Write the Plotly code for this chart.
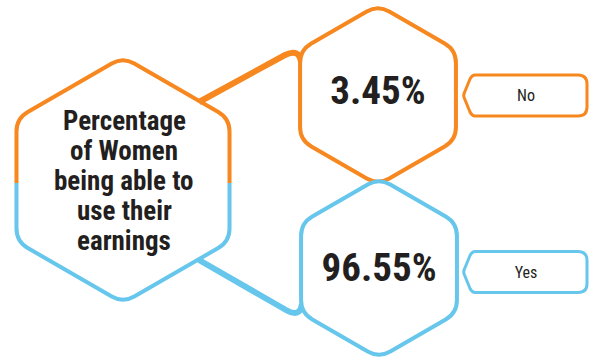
import numpy as np
import plotly.graph_objects as go

# ---- data ----
title_lines = ["Percentage", "of Women", "being able to", "use their", "earnings"]
categories = ["No", "Yes"]
percent_values = [3.45, 96.55]
series_colors = ["#F7871F", "#66C6EC"]

TEXT = "#231F20"
COND = "'Roboto Condensed', 'Liberation Sans Narrow', sans-serif"
W, H = 590, 360


def hex_vertices(cx, cy, R):
    angs = np.radians([-90, -30, 30, 90, 150, 210])
    return [(cx + R * np.cos(a), cy + R * np.sin(a)) for a in angs]


def corner(prev, v, nxt, r):
    p, v, n = np.array(prev), np.array(v), np.array(nxt)
    a = v + r * (p - v) / np.linalg.norm(p - v)
    b = v + r * (n - v) / np.linalg.norm(n - v)
    return f" L {a[0]:.2f},{a[1]:.2f} Q {v[0]:.2f},{v[1]:.2f} {b[0]:.2f},{b[1]:.2f}"


def closed_path(pts, r):
    n = len(pts)
    s = (np.array(pts[-1]) + np.array(pts[0])) / 2
    d = f"M {s[0]:.2f},{s[1]:.2f}"
    for i in range(n):
        d += corner(pts[i - 1], pts[i], pts[(i + 1) % n], r)
    return d + " Z"


def open_path(pts, r):
    d = f"M {pts[0][0]:.2f},{pts[0][1]:.2f}"
    for i in range(1, len(pts) - 1):
        d += corner(pts[i - 1], pts[i], pts[i + 1], r)
    return d + f" L {pts[-1][0]:.2f},{pts[-1][1]:.2f}"


shapes = []

# big hexagon split into two halves
bcx, bcy, bR = 123, 180, 123
bv = hex_vertices(bcx, bcy, bR)  # top, UR, LR, bottom, LL, UL
split_y = 183
top_half = [(bv[5][0], split_y), bv[5], bv[0], bv[1], (bv[1][0], split_y)]
bot_half = [(bv[2][0], split_y), bv[2], bv[3], bv[4], (bv[4][0], split_y)]

# connectors
shapes.append(dict(type="path", path="M 199,102 L 285,55 Q 299,48 301,62",
                   line=dict(color=series_colors[0], width=6), layer="below"))
shapes.append(dict(type="path", path="M 199,260 L 286,310 Q 300,318 302,304",
                   line=dict(color=series_colors[1], width=6), layer="below"))

shapes.append(dict(type="path", path=open_path(top_half, 13),
                   line=dict(color=series_colors[0], width=4), layer="below"))
shapes.append(dict(type="path", path=open_path(bot_half, 13),
                   line=dict(color=series_colors[1], width=4), layer="below"))

# small hexagons + label boxes
small_centers = [(378, 95), (379, 268)]
box_centers = [95.5, 272]
for (cx, cy), by, col in zip(small_centers, box_centers, series_colors):
    shapes.append(dict(type="path", path=closed_path(hex_vertices(cx, cy, 90), 13),
                       line=dict(color=col, width=4), fillcolor="white", layer="below"))
    t, b = by - 20.5, by + 20.5
    x0, x1 = 463, 587
    d = (f"M {x0+12},{t} L {x1-9},{t} Q {x1},{t} {x1},{t+9} L {x1},{b-9} "
         f"Q {x1},{b} {x1-9},{b} L {x0+12},{b} Q {x0+9},{b} {x0+7},{b-4} "
         f"L {x0+1.5},{by+3} Q {x0},{by} {x0+1.5},{by-3} L {x0+7},{t+4} Q {x0+9},{t} {x0+12},{t} Z")
    shapes.append(dict(type="path", path=d, line=dict(color=col, width=3),
                       fillcolor="white", layer="below"))

fig = go.Figure()

# percentages
fig.add_trace(go.Scatter(
    x=[c[0] for c in small_centers], y=[94, 271],
    mode="text", text=[f"<b>{v:.2f}%</b>" for v in percent_values],
    textfont=dict(family=COND, size=39, color=TEXT),
    hoverinfo="skip", showlegend=False))

# category labels
fig.add_trace(go.Scatter(
    x=[526, 526], y=[97, 273.5], mode="text", text=categories,
    textfont=dict(family=COND, size=16, color=TEXT),
    hoverinfo="skip", showlegend=False))

# title lines
first_center, step = 121, 30
for i, line in enumerate(title_lines):
    fig.add_annotation(x=bcx + 1, y=first_center + i * step, xref="x", yref="y",
                       text=f"<b>{line}</b>", showarrow=False,
                       font=dict(family=COND, size=27, color=TEXT))

fig.update_layout(
    width=W, height=H, margin=dict(l=0, r=0, t=0, b=0),
    paper_bgcolor="white", plot_bgcolor="white", shapes=shapes,
    xaxis=dict(range=[0, W], visible=False, fixedrange=True),
    yaxis=dict(range=[H, 0], visible=False, fixedrange=True),
)
fig.write_html("out.html")
